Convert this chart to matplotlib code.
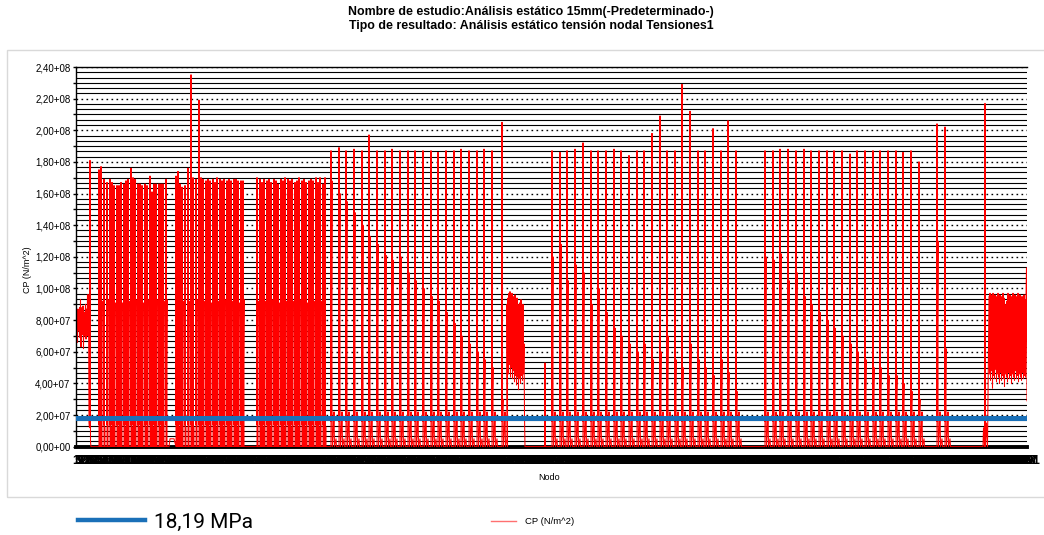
import matplotlib
matplotlib.use("Agg")
import matplotlib.pyplot as plt
from matplotlib.lines import Line2D
from matplotlib.patches import Rectangle
from matplotlib.ticker import MultipleLocator, FuncFormatter
import numpy as np

# ---------------- data ----------------
title_line1 = "Nombre de estudio:Análisis estático 15mm(-Predeterminado-)"
title_line2 = "Tipo de resultado: Análisis estático tensión nodal Tensiones1"
y_label = "CP (N/m^2)"
x_label = "Nodo"
threshold_label = "18,19 MPa"
series_label = "CP (N/m^2)"
threshold_value = 18.19e6
n_nodes = 1902

# left noisy block (nodes 0..24)
left_block_vals = [7.4e7, 8.6e7, 8.7e7, 6.6e7, 8.7e7, 8.4e7, 7.3e7, 8.8e7, 6.9e7, 9.3e7,
                   6.3e7, 8.2e7, 8.8e7, 7.1e7, 8.9e7, 6.2e7, 8.5e7, 7.0e7, 8.0e7, 9.0e7,
                   6.8e7, 8.7e7, 7.2e7, 9.6e7, 7.0e7]
left_tail_nodes = [25, 26, 27, 28, 29, 30]
left_tail_vals = [9.6e7, 1.5e7, 1.2e7, 1.81e8, 3.0e6, 0.0]

# group 1 (mid = secondary value next to a peak, 0 where none)
g1_nodes = [46, 50, 56, 62, 68, 72, 76, 82, 86, 90, 96, 100, 104, 110, 114, 118, 124, 128,
            132, 138, 142, 148, 152, 156, 160, 166, 170, 174, 180]
g1_peaks = [1.75e8, 1.77e8, 1.69e8, 1.67e8, 1.69e8, 1.67e8, 1.65e8, 1.65e8, 1.65e8, 1.67e8,
            1.66e8, 1.68e8, 1.69e8, 1.76e8, 1.70e8, 1.69e8, 1.66e8, 1.66e8, 1.65e8, 1.66e8,
            1.65e8, 1.71e8, 1.61e8, 1.66e8, 1.66e8, 1.66e8, 1.66e8, 1.66e8, 1.69e8]
g1_mids = [9.4e7, 9.2e7, 0, 9.3e7, 0, 9.2e7, 9.1e7, 0, 9.2e7, 9.1e7,
           0, 9.3e7, 9.2e7, 0, 9.1e7, 9.3e7, 0, 9.2e7, 9.1e7, 0,
           9.3e7, 9.2e7, 0, 9.2e7, 9.3e7, 0, 9.1e7, 9.2e7, 9.3e7]

# group 2
g2_nodes = [200, 204, 208, 212, 218, 224, 230, 234, 240, 246, 250, 254, 260, 264, 268, 274,
            278, 282, 288, 292, 296, 302, 306, 310, 316, 320, 324, 330, 334]
g2_peaks = [1.71e8, 1.74e8, 1.66e8, 1.64e8, 1.65e8, 1.76e8, 2.35e8, 1.70e8, 1.69e8, 2.19e8,
            1.70e8, 1.69e8, 1.68e8, 1.69e8, 1.68e8, 1.69e8, 1.67e8, 1.70e8, 1.69e8, 1.68e8,
            1.69e8, 1.68e8, 1.69e8, 1.68e8, 1.69e8, 1.69e8, 1.68e8, 1.68e8, 1.68e8]
g2_mids = [9.2e7, 0, 9.1e7, 9.2e7, 0, 9.2e7, 9.1e7, 0, 9.3e7, 9.2e7,
           0, 9.2e7, 9.3e7, 0, 9.1e7, 9.2e7, 0, 9.2e7, 9.1e7, 0,
           9.3e7, 9.2e7, 0, 9.2e7, 9.3e7, 0, 9.1e7, 9.2e7, 9.3e7]

# group 3
g3_nodes = [362, 368, 372, 376, 382, 386, 390, 396, 400, 404, 410, 414, 418, 424, 428, 432,
            438, 442, 446, 452, 456, 460, 466, 470, 474, 480, 484, 488, 494, 498]
g3_peaks = [1.70e8, 1.69e8, 1.67e8, 1.69e8, 1.68e8, 1.69e8, 1.67e8, 1.69e8, 1.68e8, 1.66e8,
            1.69e8, 1.68e8, 1.70e8, 1.69e8, 1.68e8, 1.69e8, 1.67e8, 1.68e8, 1.70e8, 1.68e8,
            1.69e8, 1.67e8, 1.68e8, 1.69e8, 1.68e8, 1.70e8, 1.67e8, 1.70e8, 1.66e8, 1.70e8]
g3_mids = [9.2e7, 9.1e7, 0, 9.2e7, 9.2e7, 0, 9.3e7, 9.2e7, 0, 9.1e7,
           9.3e7, 0, 9.2e7, 9.1e7, 0, 9.2e7, 9.2e7, 0, 9.3e7, 9.2e7,
           0, 9.1e7, 9.3e7, 0, 9.2e7, 9.1e7, 0, 9.2e7, 9.2e7, 0]

# group 4
g4_nodes = [510, 526, 540, 556, 572, 586, 602, 618, 632, 648, 664, 678, 694, 710, 724, 740,
            756, 770, 786, 802, 816, 832, 852]
g4_peaks = [1.87e8, 1.89e8, 1.87e8, 1.88e8, 1.87e8, 1.97e8, 1.87e8, 1.87e8, 1.88e8, 1.87e8,
            1.87e8, 1.87e8, 1.87e8, 1.87e8, 1.86e8, 1.87e8, 1.87e8, 1.88e8, 1.87e8, 1.87e8,
            1.88e8, 1.87e8, 2.05e8]
g4_comps = [1.68e8, 1.60e8, 1.55e8, 1.48e8, 1.40e8, 1.33e8, 1.28e8, 1.21e8, 1.18e8, 1.20e8,
            1.10e8, 1.05e8, 1.00e8, 9.5e7, 9.2e7, 8.5e7, 7.8e7, 7.0e7, 6.5e7, 6.0e7,
            5.5e7, 5.0e7, 3.0e7]

# middle noisy block (nodes 862..898)
mid_block_vals = [9.0e7, 4.9e7, 9.4e7, 4.6e7, 9.7e7, 5.2e7, 9.8e7, 4.4e7, 9.6e7, 5.0e7,
                  9.7e7, 4.3e7, 9.5e7, 4.8e7, 9.3e7, 4.1e7, 9.6e7, 4.5e7, 9.2e7, 3.9e7,
                  9.4e7, 4.4e7, 9.0e7, 3.6e7, 8.8e7, 4.3e7, 9.1e7, 4.0e7, 9.3e7, 4.5e7,
                  8.9e7, 4.2e7, 9.0e7, 4.6e7, 6.5e7, 2.0e7, 0.0]
mid_block_start = 862
single_node = 938
single_val = 5.3e7

# group 5
g5_nodes = [952, 968, 982, 998, 1014, 1030, 1044, 1060, 1076, 1090, 1106, 1122, 1136, 1152,
            1168, 1182, 1198, 1212, 1228, 1244, 1258, 1274, 1290, 1304, 1320]
g5_peaks = [1.87e8, 1.86e8, 1.87e8, 1.88e8, 1.92e8, 1.87e8, 1.87e8, 1.87e8, 1.88e8, 1.87e8,
            1.84e8, 1.87e8, 1.87e8, 1.98e8, 2.09e8, 1.87e8, 1.87e8, 2.29e8, 2.12e8, 1.87e8,
            1.87e8, 2.01e8, 1.87e8, 2.06e8, 1.87e8]
g5_comps = [1.20e8, 1.28e8, 1.05e8, 1.15e8, 1.10e8, 9.0e7, 1.0e8, 8.5e7, 7.5e7, 7.0e7,
            6.5e7, 6.0e7, 6.5e7, 5.5e7, 6.0e7, 7.0e7, 5.5e7, 5.0e7, 6.5e7, 5.5e7,
            5.0e7, 4.5e7, 5.5e7, 4.7e7, 3.5e7]

# group 6
g6_nodes = [1378, 1394, 1408, 1424, 1440, 1456, 1470, 1486, 1502, 1516, 1532, 1548, 1562,
            1578, 1594, 1608, 1624, 1640, 1654, 1670, 1686, 1722, 1738]
g6_peaks = [1.87e8, 1.87e8, 1.88e8, 1.88e8, 1.87e8, 1.88e8, 1.87e8, 1.87e8, 1.87e8, 1.87e8,
            1.87e8, 1.85e8, 1.87e8, 1.87e8, 1.87e8, 1.87e8, 1.87e8, 1.87e8, 1.86e8, 1.87e8,
            1.80e8, 2.04e8, 2.02e8]
g6_comps = [1.20e8, 1.18e8, 1.22e8, 1.05e8, 1.10e8, 9.5e7, 9.0e7, 8.5e7, 8.0e7, 7.5e7,
            7.0e7, 6.5e7, 6.0e7, 5.5e7, 5.0e7, 5.0e7, 4.5e7, 4.5e7, 4.0e7, 3.5e7,
            3.0e7, 1.30e8, 6.2e7]

# right end: spike and noisy block (nodes 1818..1902)
end_spike_node = 1818
end_spike_val = 2.17e8
end_block_vals = [9.5e7, 4.6e7, 9.7e7, 4.2e7, 9.6e7, 4.8e7, 9.4e7, 3.7e7, 9.7e7, 4.5e7,
                  9.2e7, 4.3e7, 9.6e7, 4.9e7, 9.0e7, 4.1e7, 9.5e7, 4.6e7, 9.7e7, 4.4e7,
                  9.3e7, 4.0e7, 9.6e7, 4.7e7, 9.5e7, 4.2e7, 9.1e7, 4.5e7, 9.7e7, 4.3e7,
                  9.4e7, 3.8e7, 9.0e7, 4.6e7, 8.9e7, 4.4e7, 9.2e7, 4.1e7, 9.7e7, 4.7e7,
                  9.3e7, 4.3e7, 9.6e7, 4.5e7, 9.2e7, 4.0e7, 9.5e7, 4.6e7, 9.7e7, 4.4e7,
                  9.4e7, 4.2e7, 9.6e7, 4.8e7, 9.1e7, 4.3e7, 9.5e7, 4.5e7, 9.7e7, 4.1e7,
                  9.3e7, 4.6e7, 9.6e7, 4.4e7, 9.2e7, 4.2e7, 9.5e7, 4.7e7, 9.4e7, 4.3e7,
                  9.6e7, 4.5e7, 9.3e7, 4.4e7, 9.5e7, 1.13e8, 2.9e7]
end_block_start = 1826

# ---------------- build node series ----------------
nodes, vals = [], []


def put(n, v):
    nodes.append(n)
    vals.append(v)


for i, v in enumerate(left_block_vals):
    put(i, v)
for n, v in zip(left_tail_nodes, left_tail_vals):
    put(n, v)


def dense_group(g_nodes, g_peaks, g_mids):
    for n, pk, md in zip(g_nodes, g_peaks, g_mids):
        put(n, 0.0)
        put(n, pk)
        put(n, 1.4e7)
        if md > 0:
            put(n + 2, md)
            put(n + 2, 0.0)
        else:
            put(n + 2, 1.2e7)
            put(n + 2, 0.0)


def sparse_group(g_nodes, g_peaks, g_comps):
    for n, pk, cp in zip(g_nodes, g_peaks, g_comps):
        put(n, 0.0)
        put(n, pk)
        put(n, 1.6e7)
        put(n + 2, cp)
        put(n + 2, 2.6e7)
        put(n + 3, 0.0)
        put(n + 5, 1.3e7)
        put(n + 6, 2.2e7)
        put(n + 7, 0.0)
        put(n + 10, 5.0e6)
        put(n + 11, 0.0)


dense_group(g1_nodes, g1_peaks, g1_mids)
put(186, 0.0)
put(188, 5.0e6)
put(196, 5.0e6)
dense_group(g2_nodes, g2_peaks, g2_mids)
put(340, 0.0)
dense_group(g3_nodes, g3_peaks, g3_mids)
put(504, 0.0)
sparse_group(g4_nodes, g4_peaks, g4_comps)
for i, v in enumerate(mid_block_vals):
    put(mid_block_start + i, v)
put(single_node - 1, 0.0)
put(single_node, single_val)
put(single_node + 1, 0.0)
sparse_group(g5_nodes, g5_peaks, g5_comps)
sparse_group(g6_nodes, g6_peaks, g6_comps)
put(end_spike_node - 4, 0.0)
put(end_spike_node - 3, 1.2e7)
put(end_spike_node - 1, 0.0)
put(end_spike_node, end_spike_val)
put(end_spike_node + 1, 0.0)
put(end_spike_node + 3, 1.5e7)
put(end_spike_node + 5, 0.0)
for i, v in enumerate(end_block_vals):
    put(end_block_start + i, v)

order = np.argsort(np.array(nodes), kind="stable")
x = np.array(nodes)[order]
y = np.array(vals)[order]

# ---------------- figure ----------------
W, H = 1044, 535
fig = plt.figure(figsize=(W / 100, H / 100), dpi=100)
fig.patch.set_facecolor("white")
ax = fig.add_axes([76 / W, 1 - 446.7 / H, (1027 - 76) / W, (446.7 - 67) / H])

# dense horizontal rules between the major levels
minor_levels = [k * 2e7 / 6 for k in range(1, 72) if k % 6 != 0]
ax.hlines(minor_levels, 0, 1, transform=ax.get_yaxis_transform(),
          colors="black", lw=0.8, zorder=0)
ax.set_ylim(0, 2.4e8)
ax.set_xlim(0, n_nodes)
ax.yaxis.set_major_locator(MultipleLocator(2e7))
ax.yaxis.set_minor_locator(MultipleLocator(1e7))
ax.grid(axis="y", which="major", color="black", lw=1.0, linestyle=(0, (1.2, 2.4)), zorder=0)


def sci_fmt(v, pos):
    if abs(v) < 1:
        return "0,00+00"
    e = int(np.floor(np.log10(abs(v)) + 1e-9))
    m = v / 10 ** e
    return f"{m:.2f}".replace(".", ",") + f"+{e:02d}"


ax.yaxis.set_major_formatter(FuncFormatter(sci_fmt))
ax.tick_params(axis="y", which="major", length=2, width=1, labelsize=7, pad=2, colors="black")
ax.tick_params(axis="y", which="minor", length=2.5, width=1)
for lab in ax.get_yticklabels():
    lab.set_family("Liberation Sans")

ax.plot(x, y, color="#ff0000", lw=0.75, zorder=2)
ax.axhline(threshold_value, color="#1a70b8", lw=3.6, zorder=3)

# x tick labels: one per few nodes, overlapping into a band
xt = np.arange(0, n_nodes + 1, 4)
ax.set_xticks(xt)
ax.set_xticklabels([str(t + 1) for t in xt], fontsize=9, fontweight="bold",
                   family="Liberation Sans")
ax.tick_params(axis="x", length=0, pad=6)

ax.spines["right"].set_visible(False)
ax.spines["top"].set_linewidth(1.0)
ax.spines["left"].set_linewidth(1.0)
ax.spines["bottom"].set_linewidth(2.8)
ax.spines["bottom"].set_zorder(1)

# titles and labels
fig.text(531 / W, 1 - 12 / H, title_line1, ha="center", va="center", fontsize=8.9,
         fontweight="bold", family="Liberation Sans")
fig.text(531 / W, 1 - 26 / H, title_line2, ha="center", va="center", fontsize=8.9,
         fontweight="bold", family="Liberation Sans")
fig.text(27 / W, 1 - 270 / H, y_label, rotation=90, ha="center", va="center",
         fontsize=6.5, family="Liberation Sans")
fig.text(549 / W, 1 - 477 / H, x_label, ha="center", va="center", fontsize=6.5,
         family="Liberation Sans")

# outer frame
fig.add_artist(Rectangle((7 / W, 1 - 497 / H), (W - 7) / W + 0.01, (497 - 50) / H,
                         transform=fig.transFigure, fill=False, edgecolor="#d9d9d9", lw=1))

# legends
fig.legend(handles=[Line2D([], [], color="#1a70b8", lw=3.2)], labels=[threshold_label],
           loc="center left", bbox_to_anchor=(78 / W, 1 - 522 / H), frameon=False,
           handlelength=3.2, handletextpad=0.45, borderpad=0, borderaxespad=0,
           prop={"family": "Roboto", "size": 15})
fig.legend(handles=[Line2D([], [], color="#ff7070", lw=1.0)], labels=[series_label],
           loc="center left", bbox_to_anchor=(491 / W, 1 - 522 / H), frameon=False,
           handlelength=2.6, handletextpad=1.0, borderpad=0, borderaxespad=0,
           prop={"family": "Liberation Sans", "size": 6.8})

fig.savefig("out.png", dpi=100)
